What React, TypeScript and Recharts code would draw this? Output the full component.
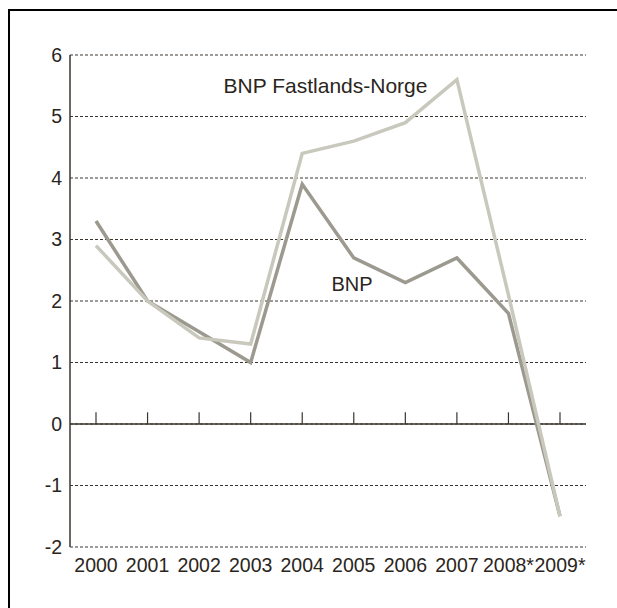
import React from 'react';
import { LineChart, Line, XAxis, YAxis, CartesianGrid, ReferenceLine } from 'recharts';

const years = ['2000', '2001', '2002', '2003', '2004', '2005', '2006', '2007', '2008*', '2009*'];
const bnp = [3.3, 2.0, 1.5, 1.0, 3.9, 2.7, 2.3, 2.7, 1.8, -1.5];
const bnpFastland = [2.9, 2.0, 1.4, 1.3, 4.4, 4.6, 4.9, 5.6, 2.1, -1.5];
const yTicks = [-2, -1, 0, 1, 2, 3, 4, 5, 6];

const data = years.map((year, i) => ({
  year,
  bnp: bnp[i],
  fastland: bnpFastland[i]
}));

const FONT = '"Liberation Sans", Arial, sans-serif';
const TEXT = '#2b2520';
const DARK = '#3b342e';

export default function App() {
  return (
    <div style={{ position: 'fixed', left: 0, top: 0, width: 617, height: 608, overflow: 'hidden', background: '#fff' }}>
      <div
        style={{
          position: 'absolute',
          left: 8,
          top: 9,
          width: 700,
          height: 700,
          borderTop: '2px solid #000',
          borderLeft: '2px solid #000'
        }}
      />
      <div style={{ position: 'absolute', left: 0, top: 0 }}>
        <LineChart width={617} height={608} data={data} margin={{ top: 55, right: 31, left: 10, bottom: 31 }}>
          <CartesianGrid vertical={false} strokeDasharray="3 2" stroke={DARK} />
          <XAxis
            dataKey="year"
            interval={0}
            padding={{ left: 26, right: 26 }}
            axisLine={false}
            tickLine={false}
            tickSize={0}
            tickMargin={11}
            height={30}
            tick={{ fill: TEXT, fontSize: 19.5, fontFamily: FONT }}
          />
          <YAxis
            domain={[-2, 6]}
            ticks={yTicks}
            interval={0}
            width={60}
            axisLine={{ stroke: DARK, strokeWidth: 1.5 }}
            tickLine={false}
            tickSize={0}
            tickMargin={8}
            tick={{ fill: TEXT, fontSize: 19.5, fontFamily: FONT }}
          />
          <ReferenceLine y={0} stroke={DARK} strokeWidth={1.5} />
          {years.map(y => (
            <ReferenceLine
              key={y}
              segment={[{ x: y, y: 0 }, { x: y, y: 0.19 }]}
              stroke={DARK}
              strokeWidth={1.2}
            />
          ))}
          <Line
            type="linear"
            dataKey="bnp"
            stroke="#9c998f"
            strokeWidth={3.5}
            dot={false}
            isAnimationActive={false}
          />
          <Line
            type="linear"
            dataKey="fastland"
            stroke="#c9c8bd"
            strokeWidth={3.5}
            dot={false}
            isAnimationActive={false}
          />
        </LineChart>
      </div>
      <svg width={617} height={608} style={{ position: 'absolute', left: 0, top: 0, pointerEvents: 'none' }}>
        <text x={325.5} y={93} textAnchor="middle" fontSize={21} fontFamily={FONT} fill={TEXT}>
          BNP Fastlands-Norge
        </text>
        <text x={352} y={291} textAnchor="middle" fontSize={20} fontFamily={FONT} fill={TEXT}>
          BNP
        </text>
      </svg>
    </div>
  );
}
